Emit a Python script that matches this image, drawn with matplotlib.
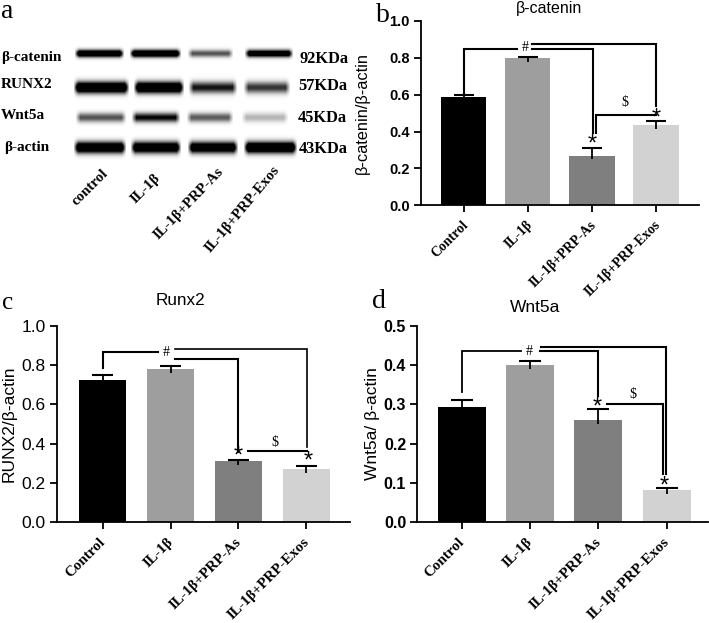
import numpy as np
import matplotlib
matplotlib.use("Agg")
import matplotlib.pyplot as plt
from matplotlib.ticker import FormatStrFormatter
from matplotlib.transforms import ScaledTranslation

W, H = 709, 623
SANS = "Liberation Sans"
SERIF = "Liberation Serif"
BAR_COLORS = ["#000000", "#9e9e9e", "#7f7f7f", "#d2d2d2"]
GROUPS = ["Control", "IL-1β", "IL-1β+PRP-As", "IL-1β+PRP-Exos"]

# ---------- blot (panel a): one row per protein, one value per lane ----------
BLOT_ROWS = ["β-catenin", "RUNX2", "Wnt5a", "β-actin"]
BLOT_KDA = ["92KDa", "57KDa", "45KDa", "43KDa"]
BLOT_LANES = ["control", "IL-1β", "IL-1β+PRP-As", "IL-1β+PRP-Exos"]
catenin_bands = [0.95, 1.00, 0.42, 0.85]
runx2_bands = [1.00, 1.00, 0.58, 0.50]
wnt5a_bands = [0.42, 0.62, 0.40, 0.18]
actin_bands = [0.95, 0.93, 0.90, 1.00]

# ---------- bar values ----------
catenin_mean = [0.59, 0.80, 0.27, 0.435]
catenin_top = [0.60, 0.803, 0.31, 0.455]
runx2_mean = [0.725, 0.78, 0.31, 0.27]
runx2_top = [0.747, 0.793, 0.318, 0.285]
wnt5a_mean = [0.293, 0.40, 0.26, 0.082]
wnt5a_top = [0.31, 0.41, 0.288, 0.087]


def axes_px(x0, x1, ytop, ybot):
    return plt.gcf().add_axes([x0/W, 1-ybot/H, (x1-x0)/W, (ybot-ytop)/H])


def ftext(x, y, s, **kw):
    return fig.text(x/W, 1-y/H, s, **kw)


def draw_blot():
    xs = np.arange(0, 300)
    ys = np.arange(35, 170)
    xx, yy = np.meshgrid(xs, ys)
    img = np.zeros_like(xx, dtype=float)
    rows = [(53, 3.6, catenin_bands), (87, 5.6, runx2_bands),
            (117, 4.6, wnt5a_bands), (147, 5.6, actin_bands)]
    lanes = [[(74, 124), (129, 181), (187, 233), (244, 293)],
             [(73, 129), (133, 184), (188, 237), (243, 290)],
             [(75, 126), (131, 180), (186, 233), (241, 288)],
             [(73, 126), (130, 181), (187, 238), (243, 297)]]
    for (yc, sig, vals), spans in zip(rows, lanes):
        for v, (a, b) in zip(vals, spans):
            edge = np.clip((xx-a)/5, 0, 1)*np.clip((b-xx)/5, 0, 1)
            img += 1.6*v*edge*np.exp(-((yy-yc)/sig)**2)
    ax = axes_px(0, 300, 35, 170)
    ax.imshow(np.clip(1-img, 0, 1), cmap="gray", vmin=0, vmax=1, aspect="auto", interpolation="bilinear")
    ax.axis("off")
    serif = dict(family=SERIF, weight="bold", va="center")
    for s, x, y in zip(BLOT_ROWS, [1, 1, 1, 4], [58, 85, 116, 147]):
        ftext(x, y, s, ha="left", fontsize=11, **serif)
    for s, x, y in zip(BLOT_KDA, [299, 298, 298, 299], [59, 86, 118, 149]):
        ftext(x, y, s, ha="left", fontsize=11.8, **serif)
    for s, x, y, rot in zip(BLOT_LANES, [102, 154, 217, 272], [167, 171, 165, 164], [45, 45, 46, 50]):
        ftext(x, y, s, ha="right", rotation=rot, rotation_mode="anchor", fontsize=10.7,
              family=SERIF, weight="bold", va="top")


def draw_panel(box, xlim, ymax, step, mean, top, ylabel, lines, stars, sym, tick_style, ylab_x, ylab_size,
               cat_size, cat_shift):
    ax = axes_px(*box)
    x = np.arange(4)
    ax.bar(x, mean, width=0.705, color=BAR_COLORS)
    stub = 0.02*ymax
    ax.vlines(x, np.array(mean)-stub, top, color="black", lw=1.3)
    ax.hlines(top, x-0.16, x+0.16, color="black", lw=1.5)
    for pts, lw in lines:
        ax.plot(*zip(*pts), color="black", lw=lw, solid_joinstyle="miter", clip_on=False)
    for sx, sy in stars:
        ax.text(sx, sy, "*", ha="center", va="center", family=SANS, fontsize=17, clip_on=False)
    for s, sx, sy in sym:
        ax.text(sx, sy, s, ha="center", va="center", family=SERIF, fontsize=10, clip_on=False,
                bbox=dict(fc="white", ec="none", pad=0.5) if s == "#" else None)
    ax.set_xlim(xlim)
    ax.set_ylim(0, ymax)
    ax.set_yticks(np.arange(0, ymax+step/2, step))
    ax.yaxis.set_major_formatter(FormatStrFormatter("%.1f"))
    for side in ["top", "right"]:
        ax.spines[side].set_visible(False)
    for side in ["left", "bottom"]:
        ax.spines[side].set_linewidth(1.3)
    ax.tick_params(length=5, width=1.3, pad=3)
    ax.tick_params(axis="x", pad=4.5)
    ax.set_xticks(x)
    ax.set_xticklabels(GROUPS, rotation=45, ha="right", rotation_mode="anchor",
                       family=SERIF, weight="bold", fontsize=cat_size)
    # the labels end a little left of their ticks
    shift = ScaledTranslation(cat_shift/100, 0, fig.dpi_scale_trans)
    for lab in ax.get_xticklabels():
        lab.set_transform(lab.get_transform() + shift)
    for lab in ax.get_yticklabels():
        lab.set(family=SANS, **tick_style)
    ax.set_ylabel(ylabel, family=SANS, fontsize=ylab_size)
    ax.yaxis.set_label_coords((ylab_x-box[0])/(box[1]-box[0]), 0.5)
    return ax


fig = plt.figure(figsize=(W/100, H/100), dpi=100, facecolor="white")
draw_blot()

# panel b
draw_panel((420.7, 699, 21, 205.3), (-0.672, 3.67), 1.0, 0.2, catenin_mean, catenin_top,
           "β-catenin/β-actin",
           [([(0, 0.60), (0, 0.846), (0.83, 0.846)], 1.5),
            ([(1.06, 0.846), (2.02, 0.846), (2.02, 0.39)], 1.5),
            ([(1.06, 0.875), (3.0, 0.875), (3.0, 0.54)], 1.5),
            ([(2.06, 0.39), (2.06, 0.49), (3.0, 0.49)], 1.5)],
           [(2.0, 0.33), (3.0, 0.47)], [("#", 0.96, 0.855), ("$", 2.52, 0.56)],
           dict(fontsize=10.5, weight="bold"), 370, 11.8, 10, -2)
ftext(549, 8, "β-catenin", ha="center", va="center", family=SANS, fontsize=11.5)
ftext(383, 15, "b", ha="center", va="center", family=SERIF, fontsize=20)

# panel c
draw_panel((56.7, 350, 325.7, 522.3), (-0.674, 3.64), 1.0, 0.2, runx2_mean, runx2_top,
           "RUNX2/β-actin",
           [([(0, 0.783), (0, 0.864), (0.82, 0.864)], 1.5),
            ([(1.07, 0.83), (2.0, 0.83), (2.0, 0.36)], 1.5),
            ([(1.07, 0.881), (3.01, 0.881), (3.01, 0.385)], 1.2),
            ([(2.14, 0.364), (3.01, 0.364)], 1.5)],
           [(2.0, 0.335), (3.02, 0.307)], [("#", 0.93, 0.865), ("$", 2.54, 0.407)],
           dict(fontsize=12.5), 17, 12.5, 10.8, -4)
ftext(180, 300.5, "Runx2", ha="center", va="center", family=SANS, fontsize=12.3)
ftext(8, 303, "c", ha="center", va="center", family=SERIF, fontsize=18)

# panel d
draw_panel((417.3, 708, 325.7, 522.3), (-0.655, 3.607), 0.5, 0.1, wnt5a_mean, wnt5a_top,
           "Wnt5a/ β-actin",
           [([(0, 0.332), (0, 0.435), (0.86, 0.435)], 1.3),
            ([(1.14, 0.435), (2.0, 0.435), (2.0, 0.321)], 1.5),
            ([(1.16, 0.447), (2.99, 0.447), (2.99, 0.123)], 1.5),
            ([(2.13, 0.30), (2.95, 0.30), (2.95, 0.123)], 1.5)],
           [(1.98, 0.291), (2.97, 0.09)], [("#", 0.98, 0.435), ("$", 2.5, 0.324)],
           dict(fontsize=11.5, weight="bold"), 380, 12.5, 10.8, -4)
ftext(535, 307, "Wnt5a", ha="center", va="center", family=SANS, fontsize=12.5)
ftext(379, 302, "d", ha="center", va="center", family=SERIF, fontsize=20)

ftext(7, 12, "a", ha="center", va="center", family=SERIF, fontsize=20)

fig.savefig("out.png", dpi=100, facecolor="white")
